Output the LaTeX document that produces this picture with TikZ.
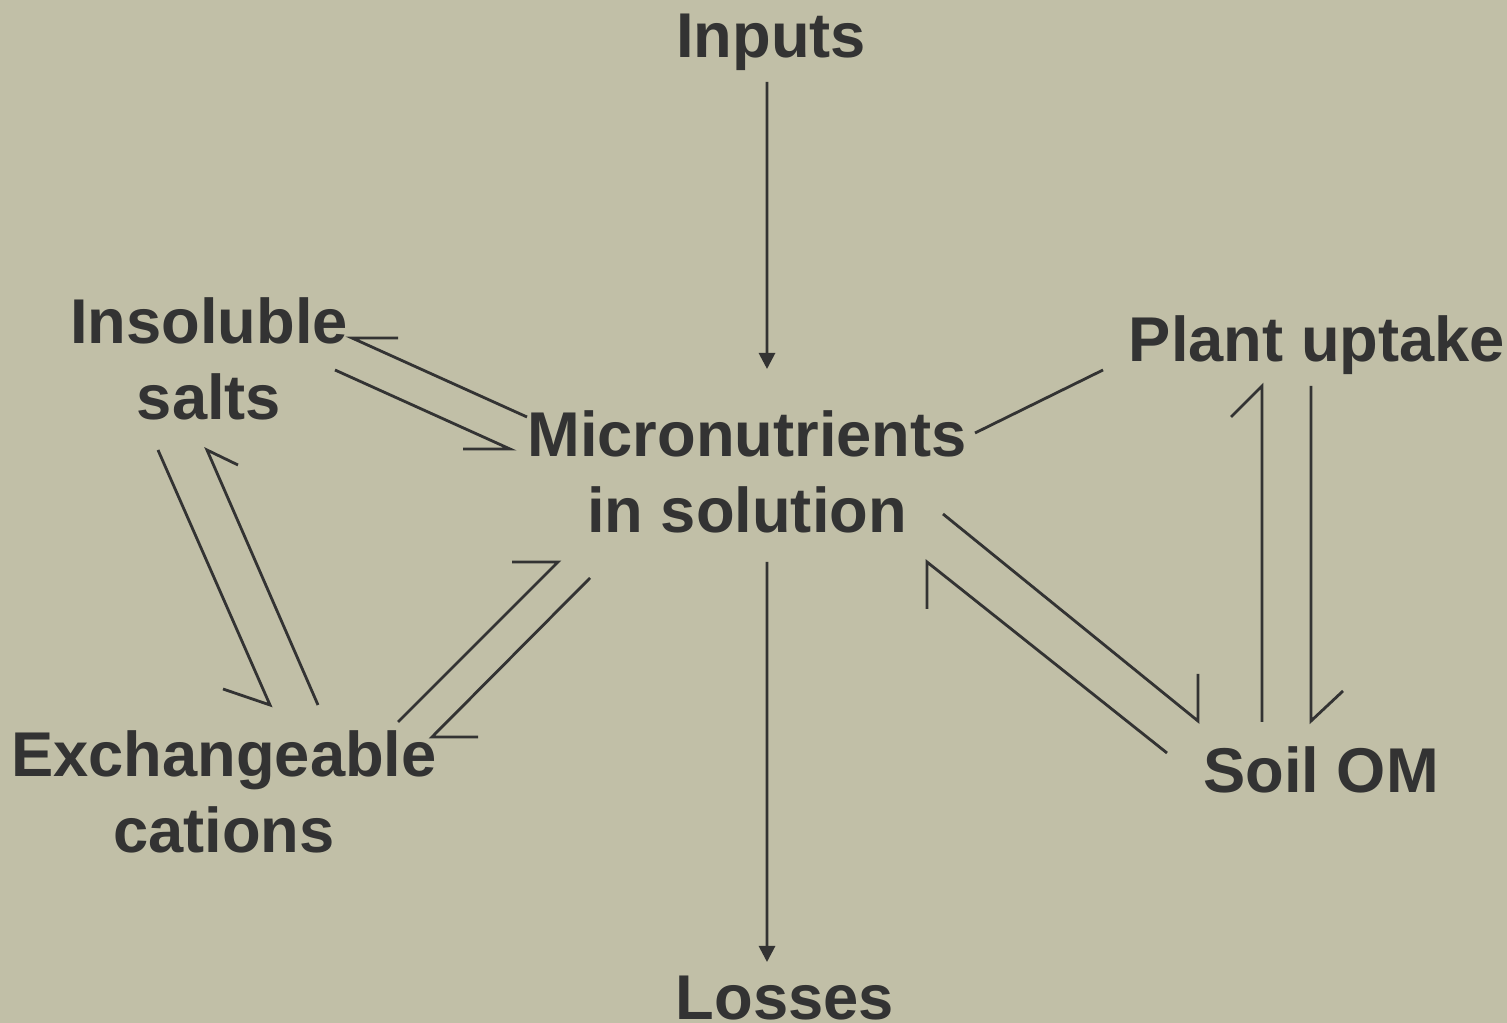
\documentclass[tikz,border=0pt]{standalone}
\usepackage{fontspec}
\setmainfont{Liberation Sans}
\usepackage{xcolor}
\usetikzlibrary{arrows.meta}
\definecolor{slidebg}{RGB}{193,191,167}
\definecolor{inkgray}{RGB}{51,51,51}

\begin{document}
\begin{tikzpicture}[
  lbl/.style={font=\bfseries\fontsize{18}{21.6}\selectfont, text=inkgray,
    align=center, inner sep=0pt},
  harp/.style={draw=inkgray, line width=0.8pt},
  arr/.style={harp, -{Triangle[length=1.6mm, width=1.6mm]}}
]
  \fill[slidebg] (0,0) rectangle (15.07,-10.23);
  \useasboundingbox (0,0) rectangle (15.07,-10.23);

  % pools
  \node[lbl, anchor=base] (inp) at (7.71,-0.58) {Inputs};
  \node[lbl] (ins) at (2.09,-3.59) {Insoluble\\salts};
  \node[lbl] (sol) at (7.47,-4.72) {Micronutrients\\in solution};
  \node[lbl, anchor=base] (pla) at (13.17,-3.62) {Plant uptake};
  \node[lbl] (exc) at (2.24,-7.92) {Exchangeable\\cations};
  \node[lbl, anchor=base] (som) at (13.21,-7.93) {Soil OM};
  \node[lbl, anchor=base] (los) at (7.85,-10.20) {Losses};

  % one-way flows
  \draw[arr] ([shift={(-0.04,-0.24)}]inp.base) -- ([shift={(0.20,1.03)}]sol.center);
  \draw[arr] ([shift={(0.20,-0.90)}]sol.center) -- ([shift={(-0.18,0.58)}]los.base);
  \draw[harp] ([shift={(2.28,0.39)}]sol.center) -- ([shift={(-2.14,-0.08)}]pla.base);

  % equilibria, drawn as pairs of half arrows
  \draw[harp] ([shift={(-2.20,0.55)}]sol.center) -- ([shift={(1.43,0.21)}]ins.center) -- ++(0.46,0);
  \draw[harp] ([shift={(1.26,-0.11)}]ins.center) -- ([shift={(-2.37,0.23)}]sol.center) -- ++(-0.47,0);
  \draw[harp] ([shift={(-0.51,-0.91)}]ins.center) -- ([shift={(0.46,0.87)}]exc.center) -- ++(-0.47,0.16);
  \draw[harp] ([shift={(0.94,0.87)}]exc.center) -- ([shift={(-0.02,-0.91)}]ins.center) -- ++(0.31,-0.15);
  \draw[harp] ([shift={(1.74,0.70)}]exc.center) -- ([shift={(-1.89,-0.90)}]sol.center) -- ++(-0.46,0);
  \draw[harp] ([shift={(-1.57,-1.06)}]sol.center) -- ([shift={(2.08,0.55)}]exc.center) -- ++(0.46,0);
  \draw[harp] ([shift={(1.96,-0.42)}]sol.center) -- ([shift={(-1.23,0.72)}]som.base) -- ++(0,0.47);
  \draw[harp] ([shift={(-1.54,0.40)}]som.base) -- ([shift={(1.80,-0.90)}]sol.center) -- ++(0,-0.47);
  \draw[harp] ([shift={(-0.59,0.71)}]som.base) -- ([shift={(-0.55,-0.24)}]pla.base) -- ++(-0.31,-0.31);
  \draw[harp] ([shift={(-0.06,-0.24)}]pla.base) -- ([shift={(-0.10,0.72)}]som.base) -- ++(0.32,0.30);
\end{tikzpicture}
\end{document}
